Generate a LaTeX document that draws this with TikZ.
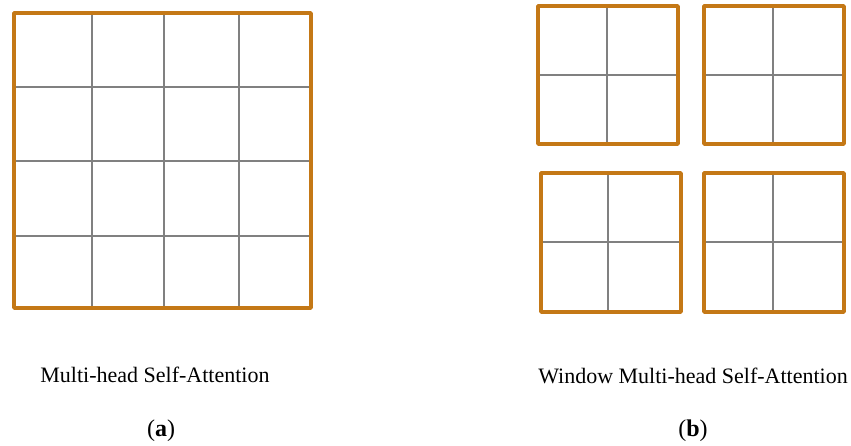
\documentclass[tikz,border=0pt]{standalone}
\usepackage{fontspec}
\setmainfont{Liberation Serif}
\definecolor{frameor}{RGB}{196,120,22}
\definecolor{gridgr}{RGB}{128,128,128}
\tikzset{
  gridline/.style={draw=gridgr, line width=1.6pt},
  frameline/.style={draw=frameor, line width=3.6pt, line join=round},
  caption/.style={font=\fontsize{22}{26}\selectfont, inner sep=0pt},
  tag/.style={font=\fontsize{24}{28}\selectfont, inner sep=0pt}
}
\begin{document}
\begin{tikzpicture}[x=1pt,y=-1pt]
\useasboundingbox (0,0) rectangle (851,445);
% (a) big grid
\foreach \x in {92,164,239} \draw[gridline] (\x,13) -- (\x,308);
\foreach \y in {87,161,236} \draw[gridline] (14,\y) -- (311,\y);
\draw[frameline] (14,13) rectangle (311,308);
% (b) four windows
\draw[gridline] (607,6) -- (607,144);  \draw[gridline] (538,75) -- (678,75);
\draw[frameline] (538,6) rectangle (678,144);
\draw[gridline] (773,6) -- (773,144);  \draw[gridline] (704,75) -- (844,75);
\draw[frameline] (704,6) rectangle (844,144);
\draw[gridline] (608,173) -- (608,312); \draw[gridline] (541,242) -- (681,242);
\draw[frameline] (541,173) rectangle (681,312);
\draw[gridline] (773,173) -- (773,312); \draw[gridline] (704,242) -- (844,242);
\draw[frameline] (704,173) rectangle (844,312);
% captions
\node[caption] (capa) at (155,375) {Multi-head Self-Attention};
\node[caption] (capb) at (693,376) {Window Multi-head Self-Attention};
\node[tag] (taga) at (161,431) {(\textbf{a})};
\node[tag] (tagb) at (693,431) {(\textbf{b})};
\end{tikzpicture}
\end{document}
